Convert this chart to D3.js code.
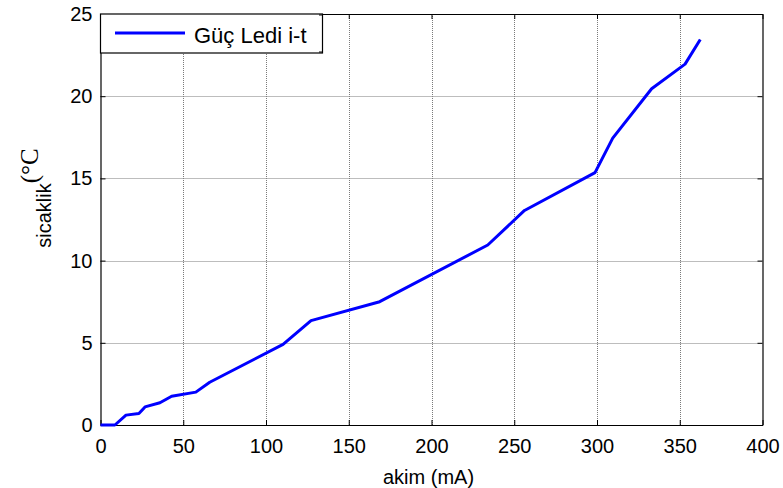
<!DOCTYPE html>
<html>
<head>
<meta charset="utf-8">
<script src="https://cdn.jsdelivr.net/npm/d3@7"></script>
<style>
  body { margin: 0; background: #fff; }
  svg { display: block; }
</style>
</head>
<body>
<div id="plot"></div>
<script>
// data
const currentMA = [0, 8.7, 15.4, 23.2, 26.9, 35.9, 43, 57.6, 66, 110.3, 127.2, 168.7, 234, 256.2, 298.8, 309.5, 333, 353.2, 362.4];
const tempC = [0, 0, 0.6, 0.7, 1.1, 1.35, 1.75, 2.0, 2.6, 4.9, 6.35, 7.5, 10.95, 13.05, 15.35, 17.45, 20.45, 21.95, 23.45];
const xTicks = [0, 50, 100, 150, 200, 250, 300, 350, 400];
const yTicks = [0, 5, 10, 15, 20, 25];
const seriesName = "Güç Ledi i-t";

const width = 783;
const height = 488;
// plot area edges
const pLeft = 100.5, pRight = 762.5, pTop = 14, pBottom = 425;

const svg = d3.select("#plot").append("svg")
  .attr("width", width)
  .attr("height", height);

svg.append("rect").attr("width", width).attr("height", height).attr("fill", "#fff");

const x = d3.scaleLinear().domain([0, 400]).range([pLeft, pRight]);
const y = d3.scaleLinear().domain([0, 25]).range([pBottom, pTop]);

const font = "Arial, 'Liberation Sans', sans-serif";

// dotted grid
const grid = svg.append("g").attr("stroke", "#7a7a7a").attr("stroke-width", 1).attr("stroke-dasharray", "1,1");
grid.selectAll(".gx").data(xTicks.slice(1, -1)).enter().append("line")
  .attr("x1", d => Math.round(x(d)) + 0.5).attr("x2", d => Math.round(x(d)) + 0.5)
  .attr("y1", pTop).attr("y2", pBottom);
grid.selectAll(".gy").data(yTicks.slice(1, -1)).enter().append("line")
  .attr("y1", d => Math.round(y(d)) + 0.5).attr("y2", d => Math.round(y(d)) + 0.5)
  .attr("x1", pLeft).attr("x2", pRight);

// axes, ticks pointing inward on all four sides
const tickLen = 5;
const axB = svg.append("g").attr("transform", `translate(0,${pBottom})`)
  .call(d3.axisBottom(x).tickValues(xTicks).tickSizeInner(-tickLen).tickSizeOuter(0).tickPadding(14));
const axT = svg.append("g").attr("transform", `translate(0,${pTop})`)
  .call(d3.axisTop(x).tickValues(xTicks).tickSizeInner(-tickLen).tickSizeOuter(0).tickFormat(""));
const axL = svg.append("g").attr("transform", `translate(${pLeft},0)`)
  .call(d3.axisLeft(y).tickValues(yTicks).tickSizeInner(-tickLen).tickSizeOuter(0).tickPadding(8));
const axR = svg.append("g").attr("transform", `translate(${pRight},0)`)
  .call(d3.axisRight(y).tickValues(yTicks).tickSizeInner(-tickLen).tickSizeOuter(0).tickFormat(""));

[axB, axT, axL, axR].forEach(a => {
  a.select(".domain").attr("stroke", "#000").attr("stroke-width", 1.2);
  a.selectAll(".tick line").attr("stroke", "#000");
  a.selectAll("text").attr("fill", "#000").style("font-family", font).style("font-size", "20px");
});
axB.selectAll("text").attr("dy", "0.71em");

// data line
const line = d3.line().x((d, i) => x(currentMA[i])).y(d => y(d));
svg.append("path")
  .datum(tempC)
  .attr("d", line)
  .attr("fill", "none")
  .attr("stroke", "#0000ff")
  .attr("stroke-width", 3)
  .attr("stroke-linejoin", "round");

// axis labels
svg.append("text")
  .attr("x", (pLeft + pRight) / 2 - 3)
  .attr("y", 484)
  .attr("text-anchor", "middle")
  .style("font-family", font)
  .style("font-size", "20px")
  .text("akim (mA)");

const yl = svg.append("text")
  .attr("transform", "translate(51,198) rotate(-90)")
  .attr("text-anchor", "middle")
  .style("font-family", font)
  .style("font-size", "20px");
yl.append("tspan").text("sicaklik");
yl.append("tspan")
  .attr("dy", -13)
  .style("font-family", "'Times New Roman', 'Liberation Serif', serif")
  .style("font-size", "25px")
  .text("(°C");

// legend box
const lg = svg.append("g");
lg.append("rect")
  .attr("x", pLeft).attr("y", pTop)
  .attr("width", 222).attr("height", 39)
  .attr("fill", "#fff").attr("stroke", "#000").attr("stroke-width", 1.2);
lg.append("line").attr("x1", 322.5).attr("x2", 319).attr("y1", pTop + 1).attr("y2", pTop + 1).attr("stroke", "#000");
lg.append("line").attr("x1", 322.5).attr("x2", 319).attr("y1", pTop + 38).attr("y2", pTop + 38).attr("stroke", "#000");
lg.append("line")
  .attr("x1", 115).attr("x2", 185).attr("y1", 33).attr("y2", 33)
  .attr("stroke", "#0000ff").attr("stroke-width", 3);
lg.append("text")
  .attr("x", 194).attr("y", 43)
  .style("font-family", font)
  .style("font-size", "22px")
  .text(seriesName);
</script>
</body>
</html>
